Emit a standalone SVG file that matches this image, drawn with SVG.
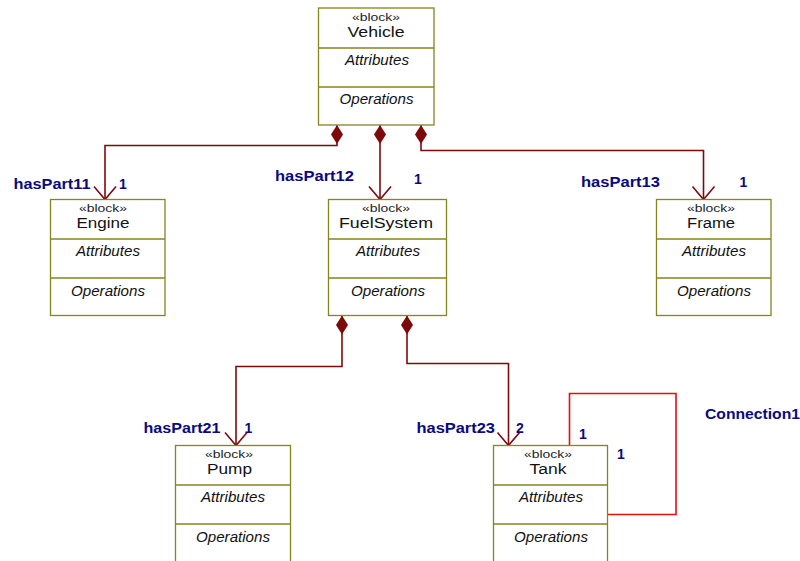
<svg xmlns="http://www.w3.org/2000/svg" width="800" height="561" viewBox="0 0 800 561">
  <style>
    .box { fill: #ffffff; stroke: #858520; stroke-width: 1.3; }
    .sep { stroke: #858520; stroke-width: 1.3; }
    .st { font-family: "Liberation Sans", Arial, sans-serif; font-size: 10.5px; fill: #222; text-anchor: middle; }
    .nm { font-family: "Liberation Sans", Arial, sans-serif; font-size: 14px; fill: #111; text-anchor: middle; }
    .cp { font-family: "Liberation Sans", Arial, sans-serif; font-size: 14px; font-style: italic; fill: #111; text-anchor: middle; }
    .lbl { font-family: "Liberation Sans", Arial, sans-serif; font-size: 14px; font-weight: bold; fill: #0a0a80; }
    .comp { fill: none; stroke: #7d0a0a; stroke-width: 1.6; }
    .conn { fill: none; stroke: #e01010; stroke-width: 1.6; }
  </style>
  <defs>
    <marker id="diamond" viewBox="0 -7 20 14" refX="0" refY="0" markerWidth="20" markerHeight="14" markerUnits="userSpaceOnUse" orient="auto">
      <path d="M0,0 L9.5,-6 L19,0 L9.5,6 Z" fill="#7d0a0a"/>
    </marker>
    <marker id="open" viewBox="-15 -13 17 26" refX="0" refY="0" markerWidth="17" markerHeight="26" markerUnits="userSpaceOnUse" orient="auto">
      <path d="M-13,-11 L0,0 L-13,11" fill="none" stroke="#7d0a0a" stroke-width="1.6"/>
    </marker>
  </defs>

  <!-- composition and connection lines -->
  <g id="connectors">
    <path class="comp" d="M337,125 V145.5 H105 V199.5" marker-start="url(#diamond)" marker-end="url(#open)"/>
    <path class="comp" d="M380,125 V199.5" marker-start="url(#diamond)" marker-end="url(#open)"/>
    <path class="comp" d="M421,125 V150.5 H703.5 V199.5" marker-start="url(#diamond)" marker-end="url(#open)"/>
    <path class="comp" d="M342,315.5 V366.5 H236 V445.5" marker-start="url(#diamond)" marker-end="url(#open)"/>
    <path class="comp" d="M407,315.5 V363.5 H508.5 V445.5" marker-start="url(#diamond)" marker-end="url(#open)"/>
    <path class="conn" d="M569.5,445.5 V393.5 H676 V514.5 H607.5"/>

    <text class="lbl" x="13.5" y="189" textLength="77" lengthAdjust="spacingAndGlyphs">hasPart11</text>
    <text class="lbl" x="119" y="189">1</text>
    <text class="lbl" x="275" y="181" textLength="79" lengthAdjust="spacingAndGlyphs">hasPart12</text>
    <text class="lbl" x="414" y="184">1</text>
    <text class="lbl" x="581" y="187" textLength="79" lengthAdjust="spacingAndGlyphs">hasPart13</text>
    <text class="lbl" x="739.5" y="187">1</text>
    <text class="lbl" x="143.5" y="433" textLength="77" lengthAdjust="spacingAndGlyphs">hasPart21</text>
    <text class="lbl" x="244.5" y="433">1</text>
    <text class="lbl" x="416.5" y="433" textLength="78.5" lengthAdjust="spacingAndGlyphs">hasPart23</text>
    <text class="lbl" x="516" y="433">2</text>
    <text class="lbl" x="579" y="439">1</text>
    <text class="lbl" x="617" y="459">1</text>
    <text class="lbl" x="705" y="419" textLength="95" lengthAdjust="spacingAndGlyphs">Connection1</text>
  </g>

  <g id="Vehicle">
    <rect class="box" x="318.5" y="8" width="115.5" height="117"/>
    <line class="sep" x1="318.5" y1="48" x2="434" y2="48"/>
    <line class="sep" x1="318.5" y1="87" x2="434" y2="87"/>
    <text class="st" x="376" y="20.5" textLength="48" lengthAdjust="spacingAndGlyphs">«block»</text>
    <text class="nm" x="376" y="37" textLength="57" lengthAdjust="spacingAndGlyphs">Vehicle</text>
    <text class="cp" x="377" y="65" textLength="64" lengthAdjust="spacingAndGlyphs">Attributes</text>
    <text class="cp" x="376.5" y="104" textLength="74" lengthAdjust="spacingAndGlyphs">Operations</text>
  </g>

  <g id="Engine">
    <rect class="box" x="50.5" y="199.5" width="114.5" height="116"/>
    <line class="sep" x1="50.5" y1="239" x2="165" y2="239"/>
    <line class="sep" x1="50.5" y1="278" x2="165" y2="278"/>
    <text class="st" x="103" y="211.5" textLength="48" lengthAdjust="spacingAndGlyphs">«block»</text>
    <text class="nm" x="103" y="228" textLength="53" lengthAdjust="spacingAndGlyphs">Engine</text>
    <text class="cp" x="108" y="256" textLength="64" lengthAdjust="spacingAndGlyphs">Attributes</text>
    <text class="cp" x="108" y="295.5" textLength="74" lengthAdjust="spacingAndGlyphs">Operations</text>
  </g>

  <g id="FuelSystem">
    <rect class="box" x="328.5" y="199.5" width="118" height="116"/>
    <line class="sep" x1="328.5" y1="239" x2="446.5" y2="239"/>
    <line class="sep" x1="328.5" y1="278" x2="446.5" y2="278"/>
    <text class="st" x="386" y="211.5" textLength="48" lengthAdjust="spacingAndGlyphs">«block»</text>
    <text class="nm" x="386" y="228" textLength="94" lengthAdjust="spacingAndGlyphs">FuelSystem</text>
    <text class="cp" x="388" y="256" textLength="64" lengthAdjust="spacingAndGlyphs">Attributes</text>
    <text class="cp" x="388" y="295.5" textLength="74" lengthAdjust="spacingAndGlyphs">Operations</text>
  </g>

  <g id="Frame">
    <rect class="box" x="656.5" y="199.5" width="114.5" height="116"/>
    <line class="sep" x1="656.5" y1="239" x2="771" y2="239"/>
    <line class="sep" x1="656.5" y1="278" x2="771" y2="278"/>
    <text class="st" x="711" y="211.5" textLength="48" lengthAdjust="spacingAndGlyphs">«block»</text>
    <text class="nm" x="711" y="228" textLength="48" lengthAdjust="spacingAndGlyphs">Frame</text>
    <text class="cp" x="714" y="256" textLength="64" lengthAdjust="spacingAndGlyphs">Attributes</text>
    <text class="cp" x="714" y="295.5" textLength="74" lengthAdjust="spacingAndGlyphs">Operations</text>
  </g>

  <g id="Pump">
    <rect class="box" x="175.5" y="445.5" width="115" height="117"/>
    <line class="sep" x1="175.5" y1="485" x2="290.5" y2="485"/>
    <line class="sep" x1="175.5" y1="524" x2="290.5" y2="524"/>
    <text class="st" x="229" y="457.5" textLength="48" lengthAdjust="spacingAndGlyphs">«block»</text>
    <text class="nm" x="229.5" y="474" textLength="45" lengthAdjust="spacingAndGlyphs">Pump</text>
    <text class="cp" x="233" y="502" textLength="64" lengthAdjust="spacingAndGlyphs">Attributes</text>
    <text class="cp" x="233" y="541.5" textLength="74" lengthAdjust="spacingAndGlyphs">Operations</text>
  </g>

  <g id="Tank">
    <rect class="box" x="493.5" y="445.5" width="114" height="117"/>
    <line class="sep" x1="493.5" y1="485" x2="607.5" y2="485"/>
    <line class="sep" x1="493.5" y1="524" x2="607.5" y2="524"/>
    <text class="st" x="548" y="457.5" textLength="48" lengthAdjust="spacingAndGlyphs">«block»</text>
    <text class="nm" x="548" y="474" textLength="37" lengthAdjust="spacingAndGlyphs">Tank</text>
    <text class="cp" x="551" y="502" textLength="64" lengthAdjust="spacingAndGlyphs">Attributes</text>
    <text class="cp" x="551" y="541.5" textLength="74" lengthAdjust="spacingAndGlyphs">Operations</text>
  </g>
</svg>
